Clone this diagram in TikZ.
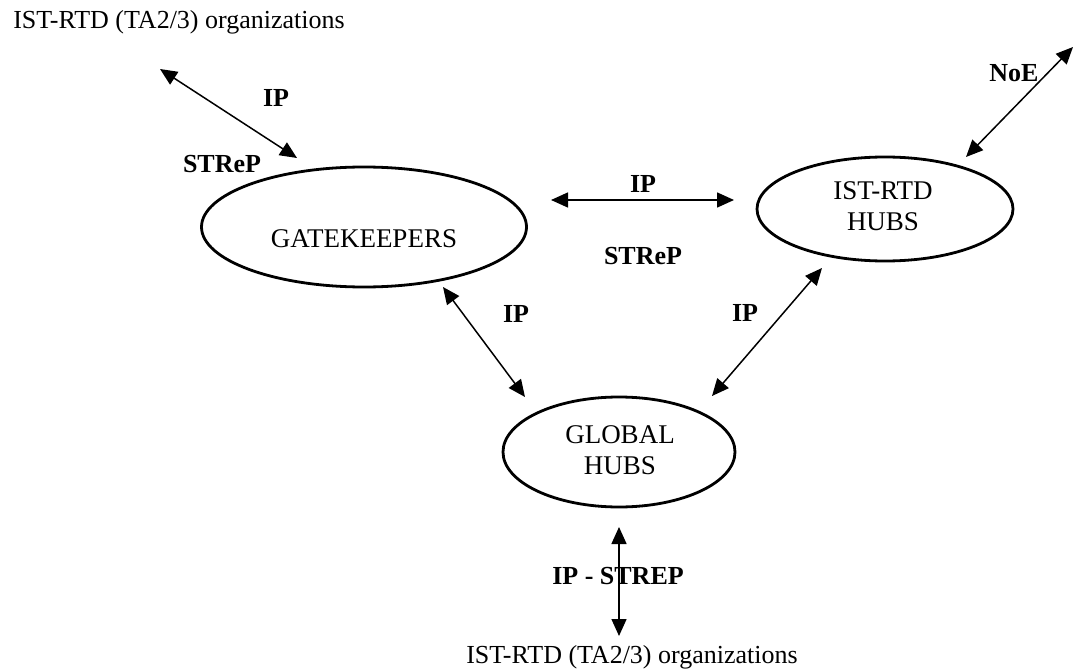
\documentclass[tikz,border=0pt]{standalone}
\usepackage{fontspec}
\setmainfont{Liberation Serif}
\usetikzlibrary{shapes.geometric,arrows.meta}
\begin{document}
\begin{tikzpicture}[x=1pt,y=-1pt,
  hub/.style={draw,ellipse,line width=2.8pt,inner sep=0pt},
  htxt/.style={align=center,inner sep=0pt,font=\fontsize{27}{31}\selectfont},
  txt/.style={font=\fontsize{26}{30}\selectfont,inner sep=0pt},
  lbl/.style={font=\fontsize{26}{30}\selectfont\bfseries,inner sep=0pt},
  link/.style={line width=1.5pt,{Triangle[length=17pt,width=15pt]}-{Triangle[length=17pt,width=15pt]}}]
\useasboundingbox (0,0) rectangle (1073,671);
% ellipses
\node[hub,minimum width=325pt,minimum height=120pt] (gk) at (364,227) {};
\node[hub,minimum width=256pt,minimum height=104pt] (ih) at (885,209) {};
\node[hub,minimum width=232pt,minimum height=110pt] (gh) at (619,452) {};
% ellipse texts
\node[htxt] (gkt) at (364,239) {GATEKEEPERS};
\node[htxt] (iht) at (883,206) {IST-RTD\\HUBS};
\node[htxt] (ght) at (620,450) {GLOBAL\\HUBS};
% free texts
\node[txt] (orgtop) at (179,22) {IST-RTD (TA2/3) organizations};
\node[txt] (orgbot) at (632,657) {IST-RTD (TA2/3) organizations};
% connector ends
\coordinate (a1) at (160,69);
\coordinate (a2) at (297,158);
\coordinate (b1) at (1073,47);
\coordinate (b2) at (966,157);
\coordinate (c1) at (551,200);
\coordinate (c2) at (734,200);
\coordinate (d1) at (443,287);
\coordinate (d2) at (525,397);
\coordinate (e1) at (822,268);
\coordinate (e2) at (712,396);
\coordinate (f1) at (619,527);
\coordinate (f2) at (619,636);
% connectors
\draw[link] (a1) -- (a2);
\draw[link] (b1) -- (b2);
\draw[link] (c1) -- (c2);
\draw[link] (d1) -- (d2);
\draw[link] (e1) -- (e2);
\draw[link] (f1) -- (f2);
% labels
\node[lbl] (l1) at (276,98) {IP};
\node[lbl] (l2) at (222,164) {STReP};
\node[lbl] (l3) at (1014,73) {NoE};
\node[lbl] (l4) at (643,184) {IP};
\node[lbl] (l5) at (643,256) {STReP};
\node[lbl] (l6) at (516,314) {IP};
\node[lbl] (l7) at (745,313) {IP};
\node[lbl] (l8) at (618,576) {IP - STREP};
\end{tikzpicture}
\end{document}
